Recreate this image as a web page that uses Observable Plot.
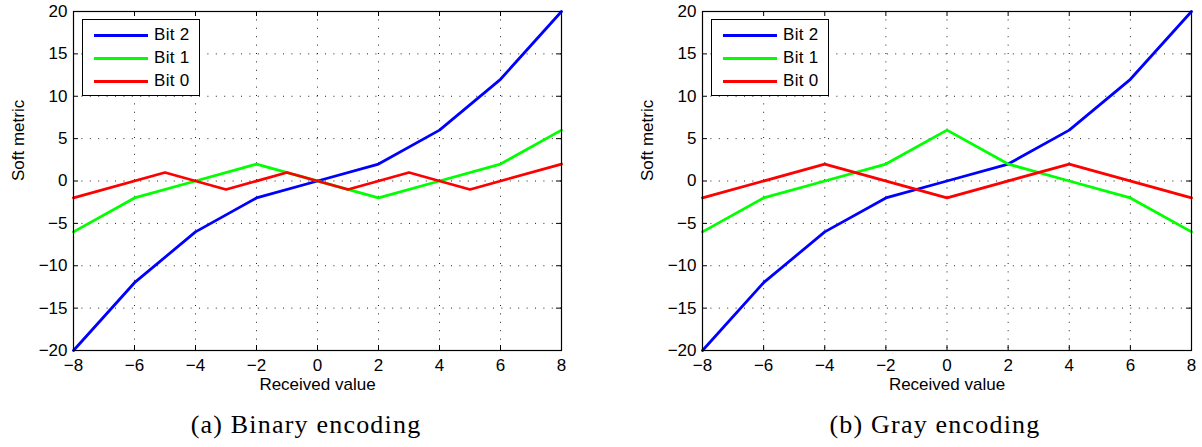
<!DOCTYPE html>
<html>
<head>
<meta charset="utf-8">
<script src="https://cdn.jsdelivr.net/npm/d3@7"></script>
<script src="https://cdn.jsdelivr.net/npm/@observablehq/plot@0.6"></script>
<style>
  body { margin: 0; background: #fff; }
  #fig { position: relative; width: 1202px; height: 447px; overflow: hidden; background: #fff;
         font-family: "Liberation Sans", Arial, sans-serif; }
  .panel { position: absolute; top: 0; width: 601px; height: 447px; }
  .panel svg { position: absolute; left: 0; top: 0; }
  .legend { position: absolute; top: 19px; width: 116px; height: 75px; border: 1px solid #000;
            background: #fff; font-size: 17px; }
  .legend .row { position: absolute; left: 0; width: 100%; height: 20px; }
  .legend .sw { position: absolute; left: 11px; width: 54px; height: 3px; top: 9px; }
  .legend .lab { position: absolute; left: 71px; top: 0px; line-height: 20px; white-space: nowrap;
                 letter-spacing: 0.3px; }
  .caption { position: absolute; top: 412px; transform: translateX(-50%); white-space: nowrap;
             font-family: "Liberation Serif", "Times New Roman", serif; font-size: 26px; line-height: 26px;
             letter-spacing: 1.2px; }
</style>
</head>
<body>
<div id="fig"></div>
<script>
// Tick positions shared by both panels
const xTicks = [-8, -6, -4, -2, 0, 2, 4, 6, 8];
const yTicks = [-20, -15, -10, -5, 0, 5, 10, 15, 20];

// Series names and their colours
const seriesNames = ["Bit 2", "Bit 1", "Bit 0"];
const seriesColors = ["#0000ff", "#00ff00", "#ff0000"];

// Bit 2 metric (same for both encodings)
const bit2X = [-8, -6, -4, -2, 0, 2, 4, 6, 8];
const bit2Y = [-20, -12, -6, -2, 0, 2, 6, 12, 20];

// Binary encoding
const binBit1X = [-8, -6, -4, -2, 2, 4, 6, 8];
const binBit1Y = [-6, -2, 0, 2, -2, 0, 2, 6];
const binBit0X = [-8, -5, -3, -1, 1, 3, 5, 8];
const binBit0Y = [-2, 1, -1, 1, -1, 1, -1, 2];

// Gray encoding
const grayBit1X = [-8, -6, -4, -2, 0, 2, 4, 6, 8];
const grayBit1Y = [-6, -2, 0, 2, 6, 2, 0, -2, -6];
const grayBit0X = [-8, -4, 0, 4, 8];
const grayBit0Y = [-2, 2, -2, 2, -2];

const xLabel = "Received value";
const yLabel = "Soft metric";
const captions = ["(a) Binary encoding", "(b) Gray encoding"];

function toRows(name, xs, ys) {
  return xs.map((x, i) => ({ name, x, y: ys[i] }));
}

function makePanel(rows, L) {
  const H = 400, mt = 11, mb = 50;
  const plotW = L.width - L.marginLeft - L.marginRight;
  const plotH = H - mt - mb;
  const tick = 5;
  const font = '"Liberation Sans", Arial, sans-serif';
  return Plot.plot({
    width: L.width, height: H,
    marginLeft: L.marginLeft, marginRight: L.marginRight, marginTop: mt, marginBottom: mb,
    style: { fontFamily: font, fontSize: "17px", color: "#000",
             background: "transparent", overflow: "visible" },
    x: { domain: [-8, 8], ticks: xTicks },
    y: { domain: [-20, 20], ticks: yTicks },
    color: { domain: seriesNames, range: seriesColors },
    marks: [
      Plot.gridX(xTicks, { stroke: "#222", strokeOpacity: 1, strokeDasharray: "1,7.4" }),
      Plot.gridY(yTicks, { stroke: "#222", strokeOpacity: 1, strokeDasharray: "1,7.4" }),
      Plot.line(rows, { x: "x", y: "y", z: "name", stroke: "name", strokeWidth: 2.8 }),
      // inward ticks on all four sides of the box
      Plot.ruleY(yTicks, { stroke: "#000", insetRight: plotW - tick }),
      Plot.ruleY(yTicks, { stroke: "#000", insetLeft: plotW - tick }),
      Plot.ruleX(xTicks, { stroke: "#000", insetTop: plotH - tick }),
      Plot.ruleX(xTicks, { stroke: "#000", insetBottom: plotH - tick }),
      Plot.frame({ stroke: "#000", strokeWidth: 1.2 }),
      Plot.axisX(xTicks, { tickSize: 0, tickPadding: 8, label: null, fontSize: 17 }),
      Plot.axisY(yTicks, { tickSize: 0, tickPadding: 6, label: null, fontSize: 17 }),
      // axis titles
      Plot.text([xLabel], { text: d => d, frameAnchor: "bottom", dy: 39, fontSize: 17 }),
      Plot.text([yLabel], { text: d => d, frameAnchor: "left", dx: -55, rotate: -90, fontSize: 17 })
    ]
  });
}

function makeLegend(left) {
  const box = document.createElement("div");
  box.className = "legend";
  box.style.left = left + "px";
  seriesNames.forEach((n, i) => {
    const row = document.createElement("div");
    row.className = "row";
    row.style.top = (5 + i * 23) + "px";
    const sw = document.createElement("div");
    sw.className = "sw";
    sw.style.background = seriesColors[i];
    const lab = document.createElement("div");
    lab.className = "lab";
    lab.textContent = n;
    row.append(sw, lab);
    box.append(row);
  });
  return box;
}

const fig = document.getElementById("fig");
const panels = [
  { rows: [...toRows("Bit 2", bit2X, bit2Y), ...toRows("Bit 1", binBit1X, binBit1Y), ...toRows("Bit 0", binBit0X, binBit0Y)],
    layout: { width: 601, marginLeft: 73, marginRight: 40 }, left: 0, legendLeft: 82, captionX: 306 },
  { rows: [...toRows("Bit 2", bit2X, bit2Y), ...toRows("Bit 1", grayBit1X, grayBit1Y), ...toRows("Bit 0", grayBit0X, grayBit0Y)],
    layout: { width: 601, marginLeft: 101, marginRight: 11 }, left: 601, legendLeft: 110, captionX: 334 }
];

panels.forEach((p, i) => {
  const div = document.createElement("div");
  div.className = "panel";
  div.style.left = p.left + "px";
  div.append(makePanel(p.rows, p.layout));
  div.append(makeLegend(p.legendLeft));
  const cap = document.createElement("div");
  cap.className = "caption";
  cap.style.left = p.captionX + "px";
  cap.textContent = captions[i];
  div.append(cap);
  fig.append(div);
});
</script>
</body>
</html>
